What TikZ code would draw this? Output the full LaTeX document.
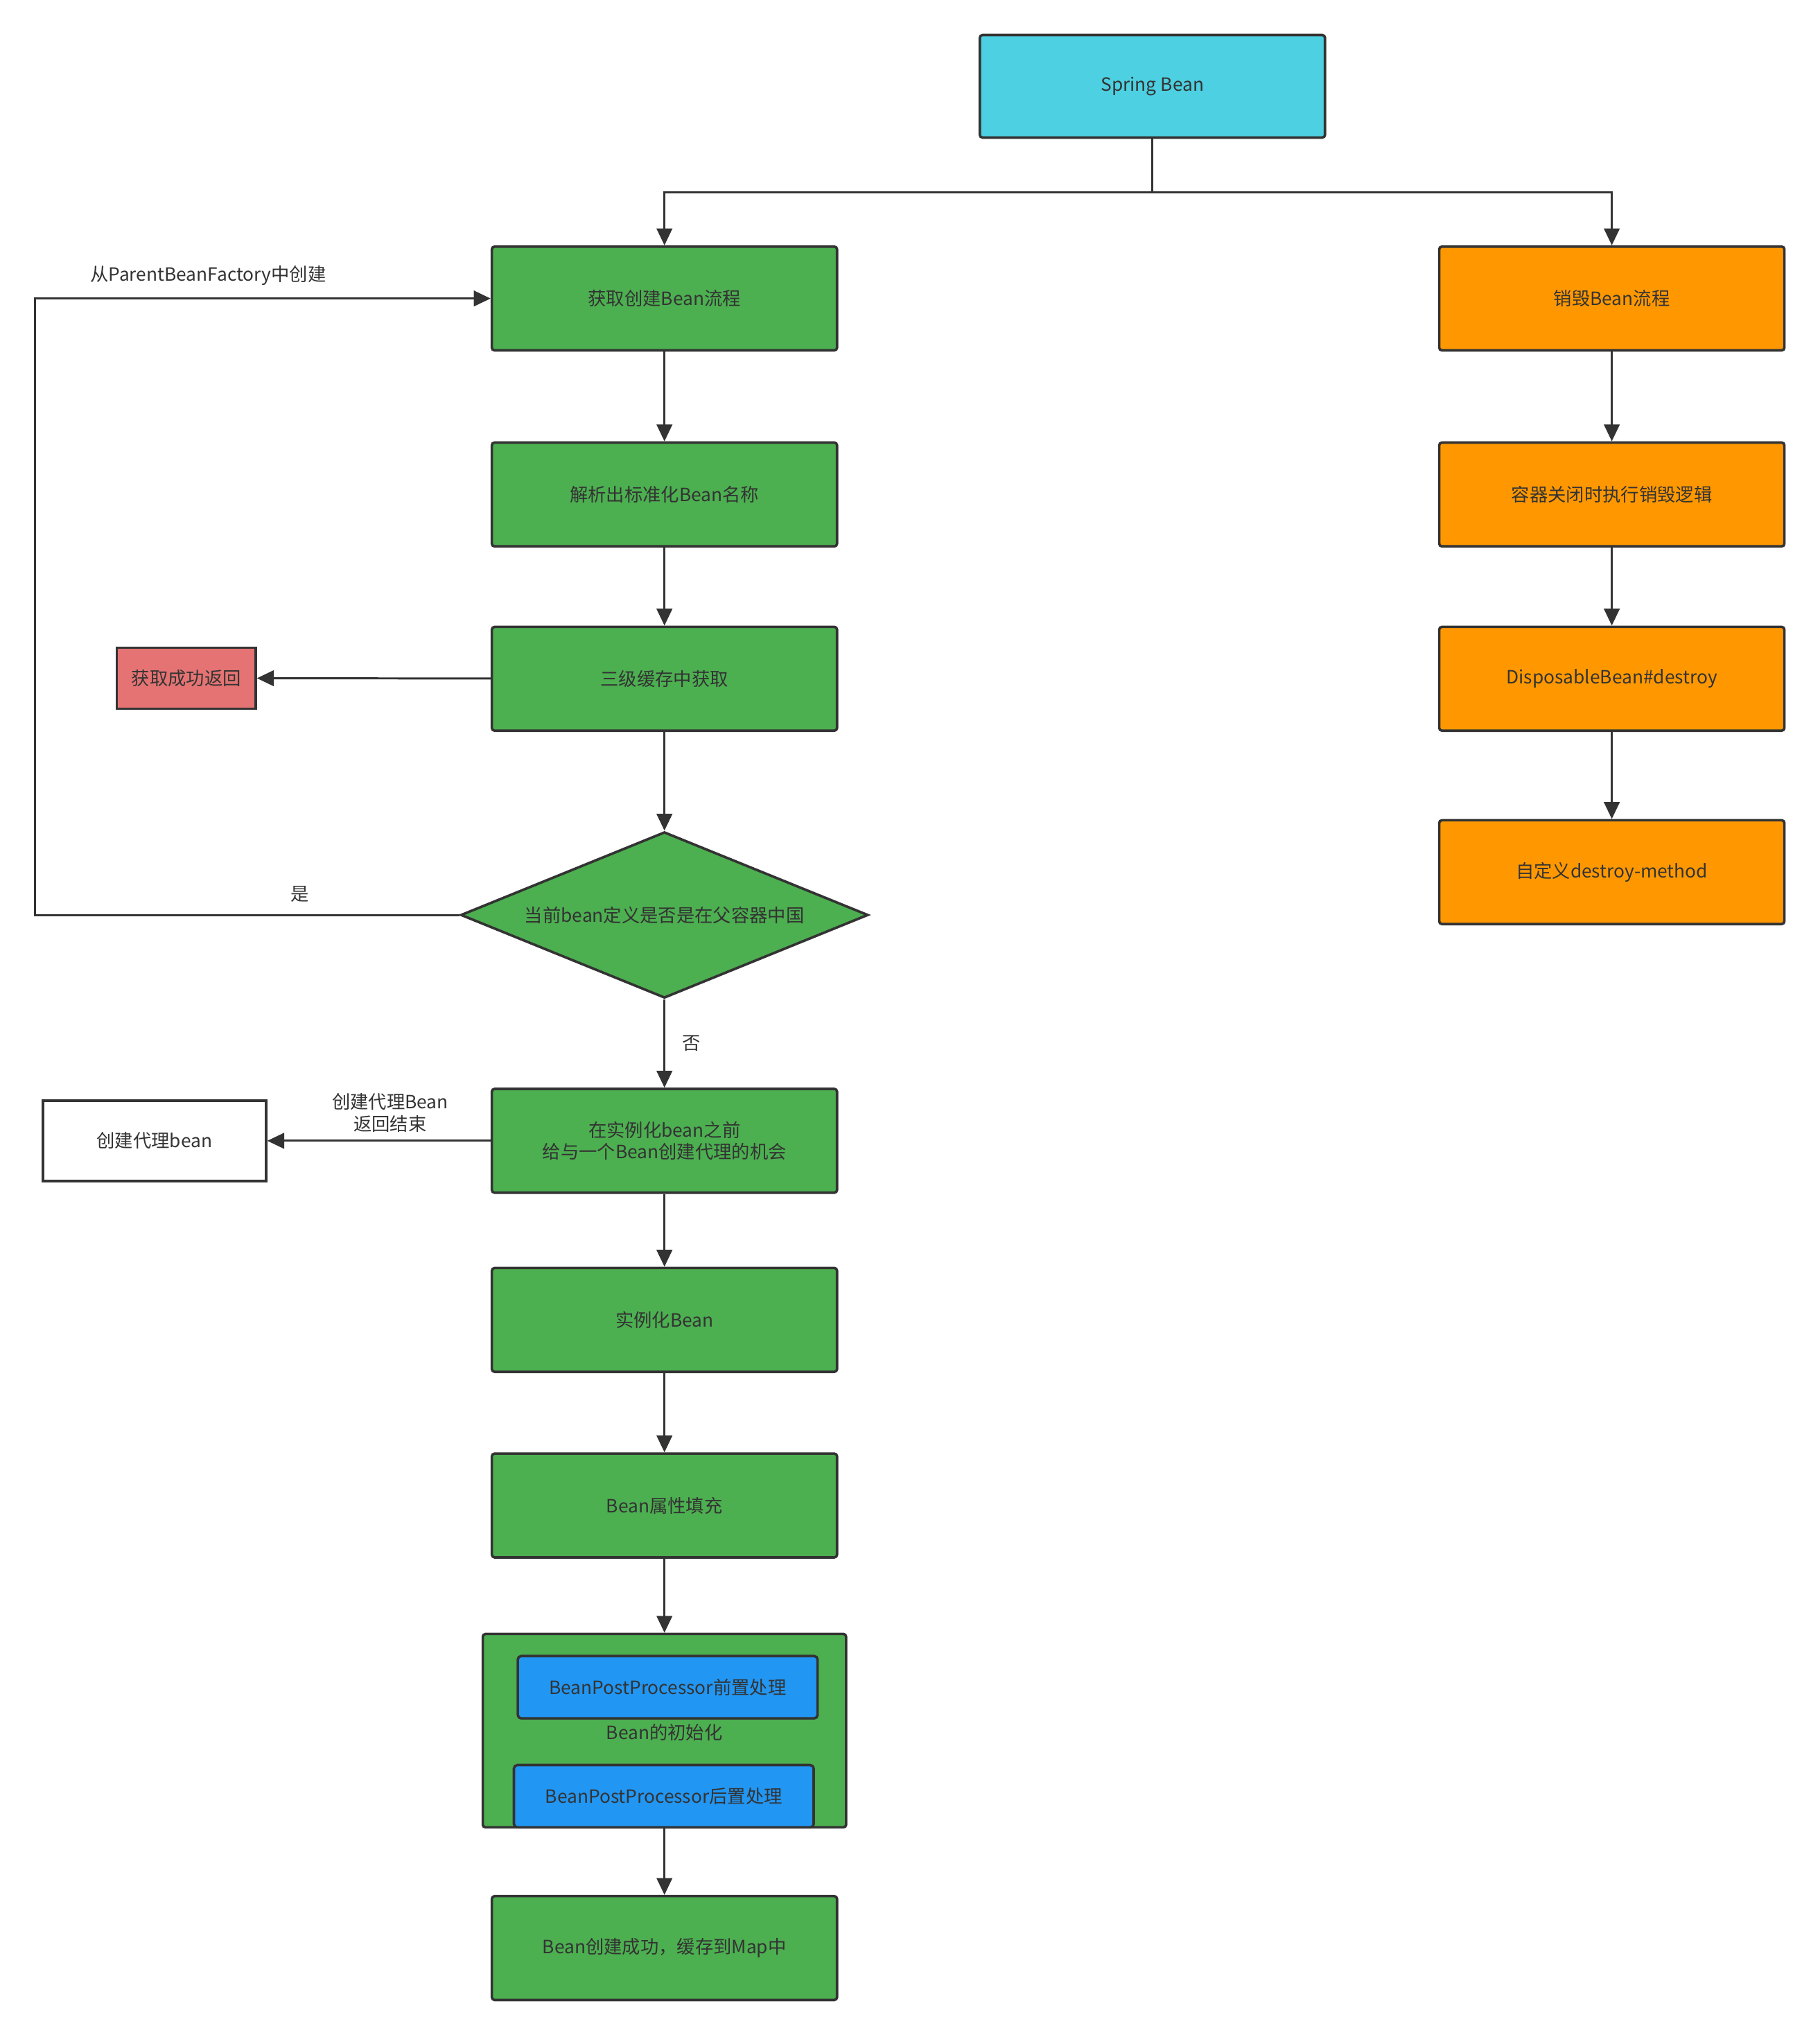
\documentclass[tikz,border=0pt]{standalone}
\usepackage{fontspec}
\setmainfont{Noto Sans CJK SC}
\definecolor{sbink}{HTML}{333333}
\definecolor{sbcyan}{HTML}{4DD0E1}
\definecolor{sbgreen}{HTML}{4CAF50}
\definecolor{sborange}{HTML}{FF9800}
\definecolor{sbred}{HTML}{E57373}
\definecolor{sbblue}{HTML}{2196F3}
\usetikzlibrary{arrows.meta,shapes.geometric}

\begin{document}
\begin{tikzpicture}[
  font=\fontsize{8}{9.6}\selectfont, text=sbink,
  box/.style={draw=sbink,line width=1.1pt,rounded corners=1.2pt,align=center,
    inner sep=2pt,minimum width=5.32cm,minimum height=1.6cm},
  springbox/.style={box,fill=sbcyan,minimum height=1.58cm},
  make/.style={box,fill=sbgreen},
  kill/.style={box,fill=sborange},
  hit/.style={draw=sbink,line width=1.1pt,fill=sbred,minimum width=2.14cm,
    minimum height=0.94cm,inner sep=1pt},
  proxybox/.style={draw=sbink,line width=1.1pt,fill=white,minimum width=3.44cm,
    minimum height=1.24cm,inner sep=1pt},
  ask/.style={diamond,aspect=2.45,draw=sbink,line width=1.1pt,fill=sbgreen,inner sep=0pt,
    minimum width=6.28cm,minimum height=2.56cm},
  wrap/.style={draw=sbink,line width=1.1pt,fill=sbgreen,rounded corners=1.2pt,
    minimum width=5.6cm,minimum height=2.98cm},
  bpp/.style={draw=sbink,line width=1.1pt,fill=sbblue,rounded corners=1.5pt,
    minimum width=4.62cm,minimum height=0.96cm,inner sep=1pt},
  flow/.style={-{Triangle[length=2.6mm,width=2.4mm]},line width=0.9pt,draw=sbink}]
  \useasboundingbox (0,0) rectangle (28.04,-31.36);
  \node[springbox] (sb) at (17.76,-1.33) {Spring Bean};
  % create branch
  \node[make] (get)    at (10.24,-4.60)  {获取创建Bean流程};
  \node[make] (parse)  at (10.24,-7.62)  {解析出标准化Bean名称};
  \node[make] (cache)  at (10.24,-10.46) {三级缓存中获取};
  \node[ask]  (parent) at (10.24,-14.10) {当前bean定义是否是在父容器中国};
  \node[make] (before) at (10.24,-17.58) {在实例化bean之前\\给与一个Bean创建代理的机会};
  \node[make] (inst)   at (10.24,-20.34) {实例化Bean};
  \node[make] (fill)   at (10.24,-23.20) {Bean属性填充};
  \node[wrap] (init)   at (10.24,-26.67) {};
  \node[bpp]  (pre)    at (10.29,-26.00) {BeanPostProcessor前置处理};
  \node[bpp]  (post)   at (10.23,-27.68) {BeanPostProcessor后置处理};
  \node (initlabel)    at (10.24,-26.70) {Bean的初始化};
  \node[make] (done)   at (10.24,-30.02) {Bean创建成功，缓存到Map中};
  \node[hit]  (ok)     at (2.87,-10.45)  {获取成功返回};
  \node[proxybox] (proxy) at (2.38,-17.58) {创建代理bean};
  % destroy branch
  \node[kill] (destroy) at (24.84,-4.60)  {销毁Bean流程};
  \node[kill] (close)   at (24.84,-7.62)  {容器关闭时执行销毁逻辑};
  \node[kill] (disp)    at (24.84,-10.46) {DisposableBean\#destroy};
  \node[kill] (custom)  at (24.84,-13.44) {自定义destroy-method};
  \coordinate (fork) at (17.76,-2.96);
  \coordinate (loop) at (0.54,-14.10);
  \draw[flow] (sb.south) -- (fork) -| (get.north);
  \draw[flow] (fork) -| (destroy.north);
  \draw[flow] (get) -- (parse);
  \draw[flow] (parse) -- (cache);
  \draw[flow] (cache) -- (ok);
  \draw[flow] (cache) -- (parent);
  \draw[flow] (parent.west) -- (loop) |- (get.west)
    node[pos=0.69,above=2pt] {从ParentBeanFactory中创建};
  \node (yes) at (4.62,-13.78) {是};
  \draw[flow] (parent) -- node[right=4pt] {否} (before);
  \draw[flow] (before) -- node[above,align=center,pos=0.45] {创建代理Bean\\返回结束} (proxy);
  \draw[flow] (before) -- (inst);
  \draw[flow] (inst) -- (fill);
  \draw[flow] (fill) -- (init);
  \draw[flow] (init) -- (done);
  \draw[flow] (destroy) -- (close);
  \draw[flow] (close) -- (disp);
  \draw[flow] (disp) -- (custom);
\end{tikzpicture}
\end{document}
